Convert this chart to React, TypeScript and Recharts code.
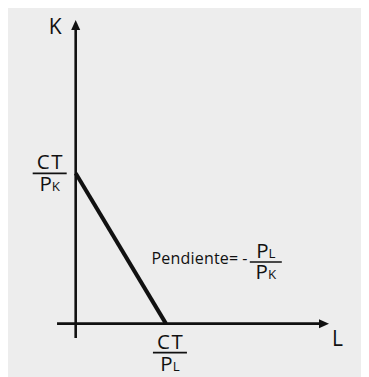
import React from "react";
import { LineChart, Line, XAxis, YAxis, ReferenceLine, ReferenceDot } from "recharts";

// Budget line (isocost) intercepts, in units of the chart
const K_INTERCEPT = 10;
const L_INTERCEPT = 6;
const budgetLine = [
  { L: 0, K: K_INTERCEPT },
  { L: L_INTERCEPT, K: 0 },
];

// Scale / axis configuration
const X_DOMAIN: [number, number] = [-4.5, 19.5];
const Y_DOMAIN: [number, number] = [-3.55, 21];
const X_AXIS_EXTENT = [-1.24, 16.84];
const Y_AXIS_EXTENT = [-0.96, 20.2];

// Texts
const X_LABEL = "L";
const Y_LABEL = "K";
const NUMERATOR = "CT";
const PRICE = "P";
const SUB_K = "K";
const SUB_L = "L";
const SLOPE_TEXT = "Pendiente=";
const MINUS = "-";

const FONT = "'Open Sans', 'DejaVu Sans', sans-serif";
const INK = "#111";
const BG = "#ededed";

type FracProps = {
  cx: number;
  cy: number;
  num?: string;
  base: string;
  sub: string;
  halfWidth: number;
  numGap: number;
  denGap: number;
  size?: number;
};

function Fraction({ cx, cy, num, base, sub, halfWidth, numGap, denGap, size = 20.5 }: FracProps) {
  return (
    <g fontFamily={FONT} fill={INK}>
      {num ? (
        <text x={cx + 0.8} y={cy - numGap} textAnchor="middle" fontSize={size} letterSpacing={1.6}>
          {num}
        </text>
      ) : null}
      <line x1={cx - halfWidth} y1={cy} x2={cx + halfWidth} y2={cy} stroke={INK} strokeWidth={1.6} />
      <text x={cx} y={cy + denGap} textAnchor="middle" fontSize={size}>
        {base}
        <tspan fontSize={size * 0.65}>{sub}</tspan>
      </text>
    </g>
  );
}

const noDot = { r: 0 };

export default function App() {
  return (
    <div style={{ width: 361, height: 369, background: BG }}>
      <LineChart width={361} height={369} data={budgetLine} margin={{ top: 0, right: 0, bottom: 0, left: 0 }}>
        <XAxis type="number" dataKey="L" domain={X_DOMAIN} allowDataOverflow hide />
        <YAxis type="number" dataKey="K" domain={Y_DOMAIN} allowDataOverflow hide />

        {/* axes */}
        <ReferenceLine
          segment={[
            { x: X_AXIS_EXTENT[0], y: 0 },
            { x: X_AXIS_EXTENT[1] - 0.3, y: 0 },
          ]}
          stroke={INK}
          strokeWidth={2.6}
        />
        <ReferenceLine
          segment={[
            { x: 0, y: Y_AXIS_EXTENT[0] },
            { x: 0, y: Y_AXIS_EXTENT[1] - 0.3 },
          ]}
          stroke={INK}
          strokeWidth={2.6}
        />

        {/* arrow heads + axis names */}
        <ReferenceDot
          x={X_AXIS_EXTENT[1]}
          y={0}
          r={0}
          shape={(p: any) => (
            <g>
              <polygon
                points={`${p.cx},${p.cy} ${p.cx - 10},${p.cy - 4.5} ${p.cx - 10},${p.cy + 4.5}`}
                fill={INK}
              />
              <text x={p.cx + 3} y={p.cy + 22.5} fontSize={21} fontFamily={FONT} fill={INK}>
                {X_LABEL}
              </text>
            </g>
          )}
        />
        <ReferenceDot
          x={0}
          y={Y_AXIS_EXTENT[1]}
          r={0}
          shape={(p: any) => (
            <g>
              <polygon
                points={`${p.cx},${p.cy} ${p.cx - 4.5},${p.cy + 10} ${p.cx + 4.5},${p.cy + 10}`}
                fill={INK}
              />
              <text x={p.cx - 14} y={p.cy + 14} textAnchor="end" fontSize={21} fontFamily={FONT} fill={INK}>
                {Y_LABEL}
              </text>
            </g>
          )}
        />

        {/* budget line */}
        <Line
          type="linear"
          dataKey="K"
          stroke={INK}
          strokeWidth={4}
          dot={false}
          activeDot={false}
          isAnimationActive={false}
        />

        {/* intercept labels */}
        <ReferenceDot
          x={0}
          y={K_INTERCEPT}
          {...noDot}
          shape={(p: any) => (
            <Fraction
              cx={p.cx - 26}
              cy={p.cy}
              num={NUMERATOR}
              base={PRICE}
              sub={SUB_K}
              halfWidth={17}
              numGap={4}
              denGap={18}
            />
          )}
        />
        <ReferenceDot
          x={L_INTERCEPT}
          y={0}
          {...noDot}
          shape={(p: any) => (
            <Fraction
              cx={p.cx + 4}
              cy={p.cy + 29}
              num={NUMERATOR}
              base={PRICE}
              sub={SUB_L}
              halfWidth={17}
              numGap={3.5}
              denGap={18.5}
            />
          )}
        />

        {/* slope annotation, placed relative to the line midpoint */}
        <ReferenceDot
          x={L_INTERCEPT / 2}
          y={K_INTERCEPT / 2}
          {...noDot}
          shape={(p: any) => (
            <g>
              <text
                x={p.cx + 30.7}
                y={p.cy + 15.5}
                fontSize={16}
                letterSpacing={0.2}
                fontFamily={FONT}
                fill={INK}
              >
                {SLOPE_TEXT}
              </text>
              <text x={p.cx + 124} y={p.cy + 15.5} textAnchor="middle" fontSize={16} fontFamily={FONT} fill={INK}>
                {MINUS}
              </text>
              <Fraction
                cx={p.cx + 145}
                cy={p.cy + 13.5}
                base={PRICE}
                sub={SUB_K}
                halfWidth={16}
                numGap={0}
                denGap={17.5}
              />
              <text x={p.cx + 145} y={p.cy + 10} textAnchor="middle" fontSize={20.5} fontFamily={FONT} fill={INK}>
                {PRICE}
                <tspan fontSize={13.3}>{SUB_L}</tspan>
              </text>
            </g>
          )}
        />
      </LineChart>
    </div>
  );
}
